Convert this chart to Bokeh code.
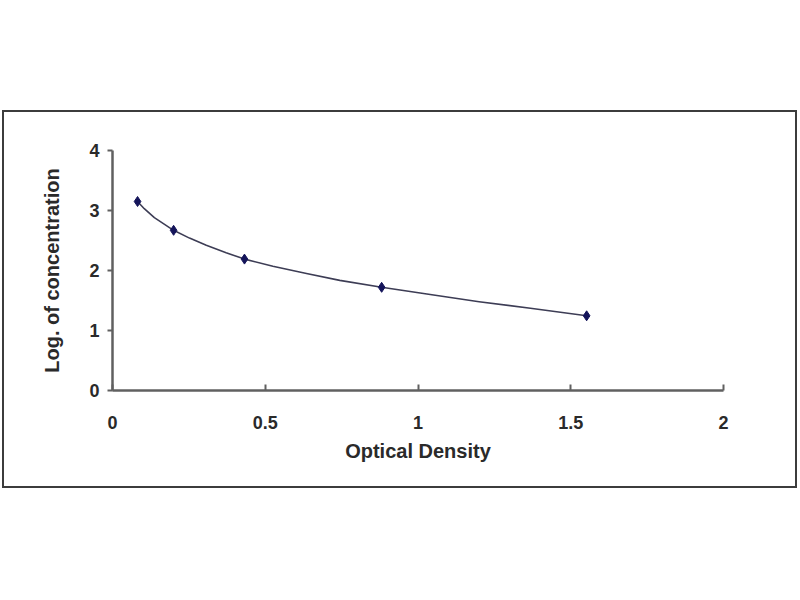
from bokeh.embed import file_html
from bokeh.resources import INLINE
from bokeh.layouts import column, row
from bokeh.models import ColumnDataSource, Range1d, FixedTicker, Spacer
from bokeh.plotting import figure

# standards
od_values = [0.082, 0.200, 0.432, 0.881, 1.552]
log_conc = [3.15, 2.67, 2.19, 1.72, 1.245]

# fitted curve at a number of places
curve_od = [0.082, 0.104, 0.137, 0.200, 0.252, 0.307, 0.372, 0.432,
            0.525, 0.635, 0.744, 0.881, 1.04, 1.20, 1.368, 1.552]
curve_log = [3.15, 3.03, 2.88, 2.67, 2.54, 2.42, 2.295, 2.19,
             2.07, 1.95, 1.835, 1.72, 1.60, 1.48, 1.37, 1.245]

x_ticks = [0, 0.5, 1, 1.5, 2]
y_ticks = [0, 1, 2, 3, 4]

points = ColumnDataSource(data={'od': od_values, 'log': log_conc})
curve = ColumnDataSource(data={'od': curve_od, 'log': curve_log})

p = figure(width=795, height=378, output_backend="svg", toolbar_location=None, tools="",
           x_range=Range1d(0, 2), y_range=Range1d(0, 4),
           min_border_left=108, min_border_right=76, min_border_top=38, min_border_bottom=100)
p.styles = {"border": "2px solid #3c3c3c"}
p.outline_line_color = None
p.background_fill_color = "white"
p.border_fill_color = "white"

p.line(x='od', y='log', source=curve, line_color="#3d3d55", line_width=1.6,
       line_join="round")
p.scatter(x='od', y='log', source=points, marker="diamond", size=10,
          fill_color="#14145a", line_color="#14145a")

p.xgrid.grid_line_color = None
p.ygrid.grid_line_color = None

p.xaxis.ticker = FixedTicker(ticks=x_ticks)
p.yaxis.ticker = FixedTicker(ticks=y_ticks)
p.xaxis.major_label_overrides = {0: "0", 0.5: "0.5", 1: "1", 1.5: "1.5", 2: "2"}

for ax in (p.xaxis, p.yaxis):
    ax.axis_line_color = "#606060"
    ax.axis_line_width = 2.5
    ax.major_tick_line_color = "#606060"
    ax.major_tick_line_width = 2
    ax.minor_tick_line_color = None
    ax.major_label_text_font = "Liberation Sans"
    ax.major_label_text_font_style = "bold"
    ax.major_label_text_font_size = "18px"
    ax.major_label_text_color = "#2a2a2a"
    ax.axis_label_text_font = "Liberation Sans"
    ax.axis_label_text_font_style = "bold"
    ax.axis_label_text_font_size = "20px"
    ax.axis_label_text_color = "#2a2a2a"

p.xaxis.major_tick_in = 6
p.xaxis.major_tick_out = 0
p.xaxis.major_label_standoff = 25
p.xaxis.axis_label = "Optical Density"
p.xaxis.axis_label_standoff = 8

p.yaxis.major_tick_in = 0
p.yaxis.major_tick_out = 5
p.yaxis.major_label_standoff = 8
p.yaxis.axis_label = "Log. of concentration"
p.yaxis.axis_label_standoff = 23

layout = column(Spacer(height=110, width=797), row(Spacer(width=2, height=378), p))

open("out.html", "w").write(file_html(layout, INLINE))
